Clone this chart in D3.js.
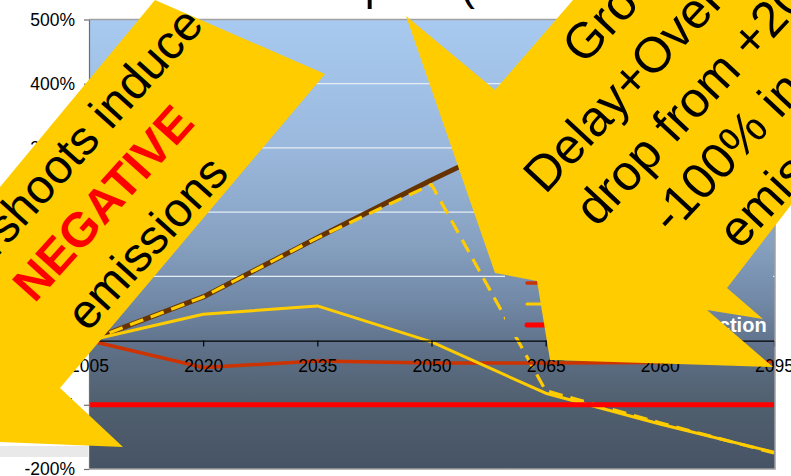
<!DOCTYPE html>
<html><head><meta charset="utf-8">
<script src="https://cdn.jsdelivr.net/npm/d3@7"></script>
<style>html,body{margin:0;padding:0;background:#fff;overflow:hidden}svg{display:block;font-family:Arial,"Liberation Sans",sans-serif}</style>
</head><body><svg id="c" width="791" height="476"></svg>
<script>
// ---- data ----
const years = [2005, 2020, 2035, 2050, 2065, 2080, 2095];
const businessAsUsual = [0, 68, 160, 250, 335, 415, 490];
const delayOvershoot = [0, 68, 160, 243, -78, -128, -175];
const stabilization = [0, -42, -32, -35, -35, -34, -33];
const growthOvershoot = [0, 41, 54, -2, -82, -130, -174];
const fullReduction = [-100, -100, -100, -100, -100, -100, -100];
const yTicks = [-200, -100, 0, 100, 200, 300, 400, 500];
const xTicks = [2005, 2020, 2035, 2050, 2065, 2080, 2095];
const seriesNames = ["Business", "Delay", "Stabilize", "Overshoot", "Immediate reduction"];
const titleText = "Emissions Impact (% of 2005)";
const leftNote = ["Overshoots induce", "NEGATIVE", "emissions"];
const rightNote = ["Growth +", "Delay+Overshoot", "drop from +200%", "-100% in 15 yrs", "emissions"];

// ---- setup ----
const svg = d3.select("#c");
const P = {l: 89, r: 775, t: 19.5, b: 469};
const x = d3.scaleLinear().domain([2005, 2095]).range([89, 774]);
const y = d3.scaleLinear().domain([-200, 500]).range([P.b, P.t]);

const defs = svg.append("defs");
const grad = defs.append("linearGradient").attr("id", "bg")
  .attr("gradientUnits", "userSpaceOnUse").attr("x1", 0).attr("y1", P.t).attr("x2", 0).attr("y2", P.b);
[[0, "#A8CAF0"], [0.29, "#9AB8DC"], [0.5, "#86A0C0"], [0.63, "#7188A6"], [0.73, "#5F7189"], [0.85, "#51606F"], [1, "#465365"]]
  .forEach(([o, c]) => grad.append("stop").attr("offset", o).attr("stop-color", c));

// title
svg.append("text").attr("x", 395.5).attr("y", 0).attr("text-anchor", "middle")
  .attr("font-size", 44).attr("fill", "#000").text(titleText);

// plot background
svg.append("rect").attr("x", P.l).attr("y", P.t).attr("width", P.r - P.l).attr("height", P.b - P.t).attr("fill", "url(#bg)");

// gridlines
svg.append("g").selectAll("line").data(yTicks.filter(v => v > 0 && v < 500)).join("line")
  .attr("x1", P.l).attr("x2", P.r).attr("y1", d => y(d)).attr("y2", d => y(d))
  .attr("stroke", "#E6EDF5").attr("stroke-width", 1.3);

// series
const line = d3.line().x((d, i) => x(years[i])).y(d => y(d));
const series = [
  {v: businessAsUsual, c: "#663300", w: 5, dash: null},
  {v: delayOvershoot, c: "#FFCC00", w: 3.2, dash: "14,8"},
  {v: stabilization, c: "#CC3300", w: 3.5, dash: null},
  {v: growthOvershoot, c: "#FFCC00", w: 3, dash: null},
  {v: fullReduction, c: "#FF0000", w: 5, dash: null}
];
svg.append("g").selectAll("path").data(series).join("path")
  .attr("d", d => line(d.v)).attr("fill", "none")
  .attr("stroke", d => d.c).attr("stroke-width", d => d.w)
  .attr("stroke-dasharray", d => d.dash).attr("stroke-linejoin", "round");

// legend
svg.append("rect").attr("x", 505).attr("y", 228).attr("width", 268).attr("height", 109).attr("fill", "url(#bg)");
const lg = svg.append("g").selectAll("g").data(series).join("g")
  .attr("transform", (d, i) => `translate(527,${241 + 21 * i})`);
lg.append("line").attr("x1", 0).attr("x2", 30).attr("stroke", d => d.c).attr("stroke-width", d => d.w)
  .attr("stroke-dasharray", d => d.dash).attr("stroke-linecap", "round");
lg.append("text").attr("x", 44).attr("y", 7).attr("fill", "#fff").attr("font-weight", "bold")
  .attr("font-size", 20).text((d, i) => seriesNames[i]);

// axes
const ya = svg.append("g").attr("transform", `translate(${P.l},0)`)
  .call(d3.axisLeft(y).tickValues(yTicks).tickSize(5).tickSizeOuter(0).tickPadding(9).tickFormat(d => d + "%"));
ya.attr("font-size", 17.5).attr("font-family", "Arial, 'Liberation Sans', sans-serif");
ya.selectAll("path,line").attr("stroke", "#6E6E6E").attr("stroke-width", 1.2);
ya.selectAll("text").attr("fill", "#000");

const xa = svg.append("g").attr("transform", `translate(0,${y(0)})`)
  .call(d3.axisBottom(x).tickValues(xTicks).tickSize(6).tickSizeOuter(0).tickPadding(13).tickFormat(d3.format("d")));
xa.attr("font-size", 17.5).attr("font-family", "Arial, 'Liberation Sans', sans-serif");
xa.selectAll("path,line").attr("stroke", "#000").attr("stroke-width", 1.2);
xa.selectAll("text").attr("fill", "#000");

// plot borders
svg.append("path").attr("d", `M${P.l},${P.t}H${P.r}V${P.b}H${P.l}`).attr("fill", "none")
  .attr("stroke", "#A0A0A0").attr("stroke-width", 1.5);

// faint strip at bottom-left
svg.append("rect").attr("x", 0).attr("y", 446).attr("width", 88).attr("height", 11).attr("fill", "#E9E9E9");

// annotation arrows
const yellow = "#FFCC00";
const leftShape = [[155, 0], [325, 74], [60, 388], [123, 447], [0, 442], [0, 187]];
const rightShape = [[406, 16], [495, 90], [573, 0], [791, 0], [791, 205], [727, 288], [763, 319], [707, 310],
  [773, 367], [550, 360], [537, 281], [495, 273]];
svg.append("path").attr("d", d3.line()(leftShape) + "Z").attr("fill", yellow);
svg.append("path").attr("d", d3.line()(rightShape) + "Z").attr("fill", yellow);

// left note
const ln = svg.append("g").attr("transform", "rotate(-48)");
ln.selectAll("text").data(leftNote).join("text")
  .attr("x", -82).attr("y", (d, i) => 170 + 59 * i).attr("text-anchor", "middle")
  .attr("font-size", 48).attr("font-weight", (d, i) => i === 1 ? "bold" : "normal")
  .attr("fill", (d, i) => i === 1 ? "#FF0000" : "#000").text(d => d);

// right note
const rPos = [[350, 472], [229, 532], [240, 592], [286, 652], [321, 712]];
const rn = svg.append("g").attr("transform", "rotate(-47)");
rn.selectAll("text").data(rightNote).join("text")
  .attr("x", (d, i) => rPos[i][0]).attr("y", (d, i) => rPos[i][1])
  .attr("font-size", 50).attr("fill", "#000").text(d => d);
</script></body></html>
